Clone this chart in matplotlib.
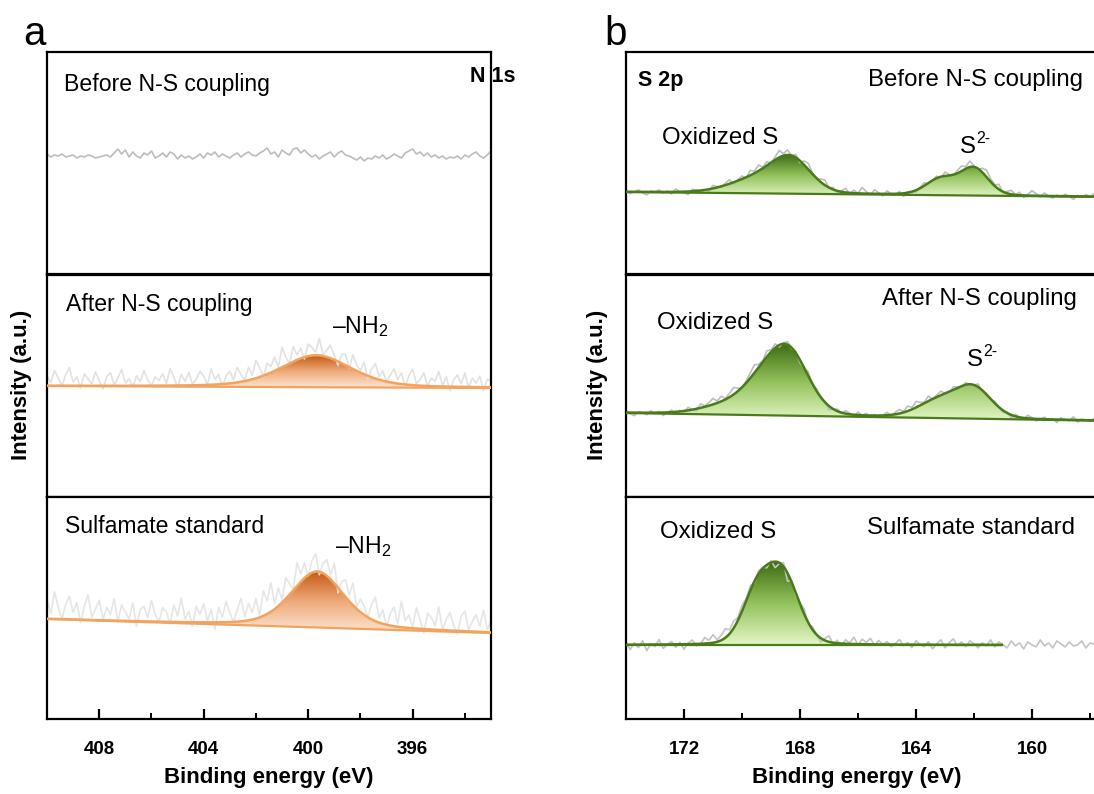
import numpy as np
import matplotlib
matplotlib.use('Agg')
from matplotlib import pyplot as plt
from matplotlib.colors import LinearSegmentedColormap

plt.rcParams['font.family'] = ['Liberation Sans', 'DejaVu Sans']
plt.rcParams['mathtext.fontset'] = 'custom'
plt.rcParams['mathtext.rm'] = 'Liberation Sans'
plt.rcParams['mathtext.default'] = 'regular'

W, H = 1094, 794

# ---------------- data ----------------
# intensities are in arbitrary units (0..222 per panel)
n_xlim = (410.0, 393.0)
n_ticks = [408, 404, 400, 396]
n_labels = ['Before N-S coupling', 'After N-S coupling', 'Sulfamate standard']
n_base = [(118, 118), (111, 109), (100, 86)]          # background at 410 eV / 393 eV
n_peaks = [[],
           [(399.7, 32, 3.2, 0.4)],
           [(399.65, 56, 2.4, 0.4)]]                    # centre, height, fwhm, lorentz frac
n_offset = [0, 6, 9]

n_noise_top = [2,-1,1,0,2,-1,0,1,-2,0,-1,1,0,-2,-1,0,1,-1,3,7,2,6,-1,4,0,-2,3,1,5,-2,
               0,3,-1,4,2,-3,1,-2,0,-3,-1,2,-2,3,1,4,-1,2,0,-2,1,3,-1,2,4,1,0,3,5,8,
               2,4,-1,6,3,1,7,8,3,6,2,-1,1,-3,0,2,4,-1,3,5,1,0,-2,-4,-1,-5,-2,-3,0,-2,
               1,-3,-1,2,0,-2,3,5,7,2,4,0,3,-1,1,-2,0,-3,-1,-2,0,-3,1,-1,2,4,0,-2,1,5]
n_noise_mid = [4,-3,9,2,-6,5,12,-2,3,-8,6,1,-4,8,-1,-9,3,7,-5,2,10,-3,1,-7,4,-2,9,0,-6,3,
               -1,6,-4,11,2,-8,5,-2,7,-5,0,8,3,-6,10,-1,4,-9,2,6,-3,9,1,-5,7,-2,12,3,-7,5,
               0,8,-4,14,2,-6,9,-1,4,-8,6,2,-3,11,-5,1,7,-2,-10,3,5,-7,8,0,-4,6,-9,2,9,-3,
               4,-6,1,8,-2,5,-8,3,10,-4,0,7,-6,2,-1,9,-5,4,-10,1,6,-3,8,-7,3,-2,5,-9,2,0]
n_noise_bot = [10,-4,18,3,-9,6,14,-2,8,-12,5,16,-6,2,11,-8,4,-3,13,-10,7,0,-7,9,-14,3,6,-5,12,-2,
               -9,5,1,-11,8,-3,15,-6,2,-13,7,-1,10,-8,4,-16,6,-4,12,0,-9,3,14,-5,8,-2,11,-7,16,4,
               20,-3,9,-6,12,2,-8,14,-1,6,-10,3,9,-12,1,7,-5,11,-14,2,8,-3,13,-7,4,0,-9,6,15,-4,
               5,-11,3,10,-6,17,-2,4,-8,12,0,-13,7,3,-5,14,-9,2,9,-4,-12,6,11,-7,1,8,-3,13,-6,2]

s_xlim = (174.0, 157.0)
s_ticks = [172, 168, 164, 160]
s_labels = ['Before N-S coupling', 'After N-S coupling', 'Sulfamate standard']
s_base = [(82, 77), (84, 76), (74, 74)]
s_fit_end = [157.0, 157.0, 161.05]
s_peaks = [[(168.3, 32, 1.6, 0.15), (169.5, 14, 2.2, 0.15), (162.0, 27, 1.15, 0.15), (163.15, 16, 1.2, 0.15)],
           [(168.4, 62, 1.65, 0.15), (169.4, 23, 1.6, 0.15), (170.6, 8, 2.0, 0.15),
            (162.0, 29, 1.45, 0.15), (163.2, 17, 1.7, 0.15)],
           [(168.6, 69, 1.35, 0.15), (169.5, 47, 1.2, 0.15)]]

s_noise_top = [1,-2,0,2,-1,-3,1,0,2,-1,1,-2,3,0,-1,-3,2,1,-1,0,-2,3,1,-1,2,4,-2,1,3,-1,
               5,2,6,1,4,-1,3,7,2,5,0,3,-2,4,6,1,-1,3,5,0,2,-2,1,4,-1,3,0,6,2,-1,
               4,1,-2,3,0,-1,2,-3,1,0,-2,1,3,-1,0,2,-2,4,1,-1,3,5,2,6,1,-1,4,7,3,1,
               5,-1,2,4,0,3,-2,1,5,2,-1,3,0,-2,1,-1,2,0,-3,1,-1,2,0,3,-2,1,-1,4,0,-2]
s_noise_mid = [2,-1,-3,1,0,-2,2,-1,1,-3,0,2,-2,1,-1,3,0,-2,4,1,3,6,2,5,1,4,7,3,-1,2,
               5,8,3,1,6,2,4,-2,1,3,-1,2,-3,0,4,-1,2,-2,1,-4,0,2,-1,3,1,-2,3,0,2,-1,
               1,-2,0,3,-1,2,4,1,5,2,6,3,1,5,-1,2,4,0,-2,3,1,-1,2,-1,0,3,-2,1,-1,2,
               0,-2,1,-3,2,0,-1,3,1,-2,0,2,-1,1,-3,2,0,-1,3,-2,1,0,-1,2,-2,1,0,-1,2,-1]
s_noise_bot = [3,-5,2,-3,4,-6,1,-2,5,-4,0,3,-3,2,-5,1,4,-2,0,6,3,8,2,5,9,4,7,3,6,2,
               5,-2,3,1,-3,2,-6,-1,4,-8,2,-3,1,5,-2,3,0,-4,2,6,-1,3,-2,4,1,7,-1,5,2,6,
               -1,4,0,3,-2,1,5,-1,2,-3,4,0,-2,3,-4,1,5,-3,2,6,-1,3,-2,4,1,-3,2,-1,5,-2,
               3,0,-3,4,-1,2,-4,3,0,-2,5,-1,2,-3,4,1,-2,3,-1,0,4,-3,2,1,-2,3,-1,0,2,-2]

n_noise = [n_noise_top, n_noise_mid, n_noise_bot]
s_noise = [s_noise_top, s_noise_mid, s_noise_bot]
n_raw_col = ['#bdbdbd', '#e2e2e2', '#e6e6e6']
s_raw_col = ['#bdbdbd', '#bdbdbd', '#c4c4c4']

orange_cmap = LinearSegmentedColormap.from_list('or', ['#fce6d4', '#efab7c', '#c45a14'])
green_cmap = LinearSegmentedColormap.from_list('gr', ['#e4f6c6', '#93c25c', '#3d6a12'])


def pv(x, c, h, w, eta):
    g = np.exp(-4 * np.log(2) * ((x - c) / w) ** 2)
    l = 1.0 / (1 + 4 * ((x - c) / w) ** 2)
    return h * (eta * l + (1 - eta) * g)


def envelope(x, peaks):
    y = np.zeros_like(x)
    for p in peaks:
        y = y + pv(x, *p)
    return y


def draw_panel(ax, xlim, base, peaks, noise, offset, raw_col, line_col, cmap, fit_end=None):
    x0, x1 = xlim
    xr = np.linspace(x0, x1, len(noise))
    br = base[0] + (base[1] - base[0]) * (xr - x0) / (x1 - x0)
    ax.plot(xr, br + envelope(xr, peaks) + offset + np.array(noise),
            color=raw_col, lw=1.2, zorder=2)
    if peaks:
        xe = x1 if fit_end is None else fit_end
        xf = np.linspace(x0, xe, 800)
        bf = base[0] + (base[1] - base[0]) * (xf - x0) / (x1 - x0)
        ef = bf + envelope(xf, peaks)
        poly = ax.fill_between(xf, bf, ef, facecolor='none', lw=0)
        img = ax.imshow(np.linspace(0, 1, 256).reshape(-1, 1), cmap=cmap, origin='lower',
                        aspect='auto', extent=(x0, xe, bf.min(), ef.max()),
                        interpolation='bicubic', zorder=1)
        img.set_clip_path(poly.get_paths()[0], transform=ax.transData)
        ax.plot(xf, bf, color=line_col, lw=1.6, zorder=3)
        ax.plot(xf, ef, color=line_col, lw=1.8, zorder=4)
    ax.set_xlim(x0, x1)
    ax.set_ylim(0, 222)
    ax.set_yticks([])
    for s in ax.spines.values():
        s.set_linewidth(1.6)


def fx(px):
    return px / W


def fy(py):
    return 1 - py / H


fig = plt.figure(figsize=(W / 100, H / 100), dpi=100)

tops = [52, 275, 497]
ph = 222
for i in range(3):
    y0 = fy(tops[i] + ph)
    axl = fig.add_axes([fx(47), y0, fx(444), ph / H])
    axr = fig.add_axes([fx(626), y0, fx(493), ph / H])
    draw_panel(axl, n_xlim, n_base[i], n_peaks[i], n_noise[i], n_offset[i],
               n_raw_col[i], '#f3a35e', orange_cmap)
    draw_panel(axr, s_xlim, s_base[i], s_peaks[i], s_noise[i], 0,
               s_raw_col[i], '#4a7b1b', green_cmap, s_fit_end[i])
    for ax, ticks in ((axl, n_ticks), (axr, s_ticks)):
        if i < 2:
            ax.set_xticks([])
        else:
            ax.set_xticks(ticks)
            ax.set_xticks([t - 2 for t in ticks] + [ticks[-1] - 2], minor=True)
            ax.tick_params(axis='x', which='major', direction='in', length=7, width=1.6,
                           labelsize=13.5, pad=16)
            ax.tick_params(axis='x', which='minor', direction='in', length=4, width=1.4)
            for lab in ax.get_xticklabels():
                lab.set_fontweight('bold')

# texts
fs = 16.6
fs_r = 17.3
fig.text(fx(23), fy(45), 'a', fontsize=29)
fig.text(fx(604), fy(45), 'b', fontsize=29)

fig.text(fx(515), fy(82), 'N 1s', fontsize=15.5, fontweight='bold', ha='right')
fig.text(fx(64), fy(91), n_labels[0], fontsize=fs)
fig.text(fx(66), fy(311), n_labels[1], fontsize=fs)
fig.text(fx(65), fy(533), n_labels[2], fontsize=fs)
fig.text(fx(332), fy(333), '–NH$_2$', fontsize=fs)
fig.text(fx(335), fy(553), '–NH$_2$', fontsize=fs)

fig.text(fx(638), fy(86), 'S 2p', fontsize=15.5, fontweight='bold')
fig.text(fx(868), fy(86), s_labels[0], fontsize=fs_r)
fig.text(fx(882), fy(305), s_labels[1], fontsize=fs_r)
fig.text(fx(867), fy(534), s_labels[2], fontsize=fs_r)
fig.text(fx(662), fy(144), 'Oxidized S', fontsize=fs_r)
fig.text(fx(657), fy(329), 'Oxidized S', fontsize=fs_r)
fig.text(fx(660), fy(538), 'Oxidized S', fontsize=fs_r)
for sx, sy in ((960, 153), (967, 366)):
    fig.text(fx(sx), fy(sy), 'S', fontsize=fs_r)
    fig.text(fx(sx + 16), fy(sy - 10), '2-', fontsize=11.5)

fig.text(fx(269), fy(777), 'Binding energy (eV)', fontsize=16, fontweight='bold',
         ha='center', va='center')
fig.text(fx(857), fy(777), 'Binding energy (eV)', fontsize=16, fontweight='bold',
         ha='center', va='center')
fig.text(fx(22), fy(385), 'Intensity (a.u.)', fontsize=16, fontweight='bold',
         rotation=90, ha='center', va='center')
fig.text(fx(598), fy(385), 'Intensity (a.u.)', fontsize=16, fontweight='bold',
         rotation=90, ha='center', va='center')

fig.savefig('out.png', dpi=100)
